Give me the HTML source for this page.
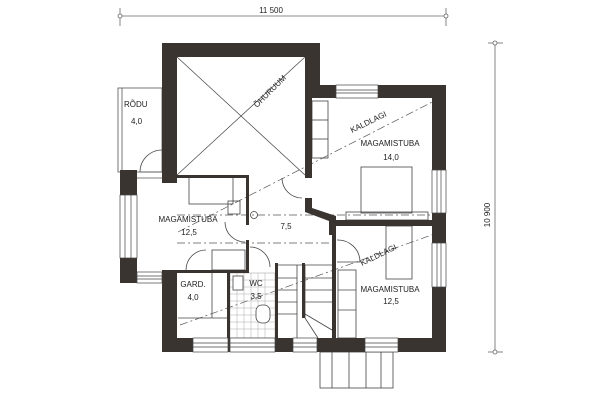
<!DOCTYPE html>
<html><head><meta charset="utf-8"><style>
body{margin:0;background:#fff}
svg{display:block}
text{font-family:"Liberation Sans",sans-serif;font-size:8px;fill:#222}
</style></head><body>
<svg width="606" height="403" viewBox="0 0 606 403" xmlns="http://www.w3.org/2000/svg">
<!-- dimensions -->
<g stroke="#666" stroke-width="0.8" fill="none">
<line x1="120" y1="16" x2="446" y2="16"/>
<line x1="120" y1="8" x2="120" y2="26"/><line x1="446" y1="8" x2="446" y2="26"/>
<circle cx="120" cy="16" r="2" fill="#fff"/><circle cx="446" cy="16" r="2" fill="#fff"/>
<line x1="495" y1="43" x2="495" y2="352"/>
<line x1="488" y1="43" x2="503" y2="43"/><line x1="488" y1="352" x2="503" y2="352"/>
<circle cx="495" cy="43" r="2" fill="#fff"/><circle cx="495" cy="352" r="2" fill="#fff"/>
</g>
<text x="271" y="13" text-anchor="middle">11 500</text>
<text transform="translate(490,215) rotate(-90)" text-anchor="middle">10 900</text>

<!-- porch rodu -->
<g stroke="#555" stroke-width="0.8" fill="none">
<rect x="118" y="88" width="44" height="84"/>
<line x1="122" y1="88" x2="122" y2="172"/>
<path d="M140 172 A22 22 0 0 1 162 150"/>
<line x1="140" y1="172" x2="162" y2="172"/>
<line x1="137" y1="178" x2="162" y2="178"/>
</g>

<!-- ohuruum cross -->
<g stroke="#444" stroke-width="0.7">
<line x1="177" y1="57" x2="305" y2="175"/>
<line x1="305" y1="57" x2="177" y2="175"/>
</g>

<!-- dash-dot lines -->
<g stroke="#555" stroke-width="0.7" stroke-dasharray="8,3,2,3" fill="none">
<line x1="178" y1="232" x2="440" y2="98"/>
<line x1="180" y1="325" x2="440" y2="232"/>
<line x1="177" y1="215" x2="440" y2="215"/>
<line x1="177" y1="243" x2="335" y2="243"/>
</g>

<!-- thin interior lines / furniture -->
<g stroke="#444" stroke-width="0.8" fill="none">
<rect x="189" y="177" width="44" height="27"/>
<rect x="228" y="201" width="12" height="13"/>
<rect x="312" y="101" width="16" height="57"/>
<line x1="312" y1="120" x2="328" y2="120"/><line x1="312" y1="139" x2="328" y2="139"/>
<rect x="361" y="167" width="51" height="46"/>
<rect x="346" y="212" width="82" height="8"/>
<rect x="386" y="226" width="26" height="53"/>
<rect x="338" y="270" width="18" height="68"/>
<line x1="338" y1="290" x2="356" y2="290"/><line x1="338" y1="310" x2="356" y2="310"/>
<rect x="212" y="250" width="33" height="20"/>
<line x1="178" y1="318" x2="227" y2="318"/>
<line x1="212" y1="273" x2="212" y2="318"/>
<path d="M186 270 A20 20 0 0 1 206 250"/>
<path d="M225 222 A20 20 0 0 0 245 242"/>
<path d="M250 247 A20 20 0 0 1 270 267"/>
<path d="M282 178 A20 20 0 0 0 302 198"/>
<path d="M337 240 A22 22 0 0 1 360 262 L337 262"/>
<!-- stairs -->
<line x1="297" y1="265" x2="297" y2="338"/>
<line x1="305" y1="265" x2="305" y2="318"/>
<line x1="278" y1="265" x2="332" y2="265"/>
<line x1="278" y1="278" x2="297" y2="278"/><line x1="305" y1="278" x2="332" y2="278"/>
<line x1="278" y1="290" x2="297" y2="290"/><line x1="305" y1="290" x2="332" y2="290"/>
<line x1="278" y1="302" x2="297" y2="302"/><line x1="305" y1="302" x2="332" y2="302"/>
<line x1="278" y1="314" x2="297" y2="314"/><line x1="305" y1="314" x2="332" y2="330"/>
<line x1="305" y1="318" x2="318" y2="338"/>
<!-- wc tiles -->
<rect x="230" y="273" width="45" height="65" stroke="#999" stroke-width="0.5"/>
<path d="M230 280H275M230 287H275M230 294H275M230 301H275M230 308H275M230 315H275M230 322H275M230 329H275M237 273V338M244 273V338M251 273V338M258 273V338M265 273V338" stroke="#aaa" stroke-width="0.5"/>
<rect x="233" y="276" width="10" height="14" fill="#fff"/>
<rect x="256" y="305" width="14" height="18" rx="6" fill="#fff"/>
<circle cx="254" cy="215" r="3.5"/>
<!-- outside stairs -->
<rect x="320" y="352" width="73" height="36"/>
<line x1="332" y1="352" x2="332" y2="388"/><line x1="349" y1="352" x2="349" y2="388"/>
<line x1="366" y1="352" x2="366" y2="388"/><line x1="381" y1="352" x2="381" y2="388"/>
</g>

<!-- walls -->
<g fill="#3a3431">
<rect x="162" y="43" width="158" height="14"/>
<rect x="162" y="43" width="15" height="140"/>
<rect x="305" y="43" width="15" height="55"/>
<rect x="305" y="57" width="7" height="121"/>
<rect x="305" y="85" width="31" height="13"/>
<rect x="378" y="85" width="68" height="13"/>
<rect x="432" y="85" width="14" height="85"/>
<rect x="432" y="213" width="14" height="30"/>
<rect x="432" y="287" width="14" height="65"/>
<polygon points="305,198 312,198 312,208 336,216 336,235 329,235 329,221 305,212"/>
<rect x="336" y="220" width="96" height="6"/>
<rect x="120" y="170" width="17" height="25"/>
<rect x="120" y="258" width="17" height="25"/>
<rect x="162" y="270" width="15" height="82"/>
<rect x="162" y="338" width="31" height="14"/>
<rect x="228" y="338" width="2" height="14"/>
<rect x="275" y="338" width="18" height="14"/>
<rect x="317" y="338" width="48" height="14"/>
<rect x="398" y="338" width="48" height="14"/>
<rect x="177" y="175" width="72" height="3"/>
<rect x="246" y="175" width="3" height="50"/>
<rect x="246" y="240" width="3" height="33"/>
<rect x="177" y="270" width="72" height="3"/>
<rect x="227" y="270" width="3" height="70"/>
<rect x="275" y="263" width="3" height="77"/>
<rect x="302" y="263" width="3" height="55"/>
<rect x="332" y="235" width="4" height="105"/>
</g>

<!-- windows -->
<g stroke="#444" stroke-width="0.7" fill="#fff">
<rect x="336" y="85" width="42" height="13"/><line x1="336" y1="90" x2="378" y2="90"/><line x1="336" y1="93" x2="378" y2="93"/>
<rect x="432" y="170" width="14" height="43"/><line x1="437" y1="170" x2="437" y2="213"/><line x1="441" y1="170" x2="441" y2="213"/>
<rect x="432" y="243" width="14" height="44"/><line x1="437" y1="243" x2="437" y2="287"/><line x1="441" y1="243" x2="441" y2="287"/>
<rect x="120" y="195" width="17" height="63"/><line x1="125" y1="195" x2="125" y2="258"/><line x1="131" y1="195" x2="131" y2="258"/>
<rect x="193" y="338" width="35" height="14"/><line x1="193" y1="343" x2="228" y2="343"/><line x1="193" y1="347" x2="228" y2="347"/>
<rect x="230" y="338" width="45" height="14"/><line x1="230" y1="343" x2="275" y2="343"/><line x1="230" y1="347" x2="275" y2="347"/>
<rect x="293" y="338" width="24" height="14"/><line x1="293" y1="343" x2="317" y2="343"/><line x1="293" y1="347" x2="317" y2="347"/>
<rect x="365" y="338" width="33" height="14"/><line x1="365" y1="343" x2="398" y2="343"/><line x1="365" y1="347" x2="398" y2="347"/>
<rect x="137" y="272" width="25" height="11"/><line x1="137" y1="276" x2="162" y2="276"/><line x1="137" y1="279" x2="162" y2="279"/>
</g>

<!-- labels -->
<text x="124" y="107">RÕDU</text>
<text x="131" y="124">4,0</text>
<text transform="translate(257,108) rotate(-45)">ÕHURUUM</text>
<text transform="translate(352,133) rotate(-26)">KALDLAGI</text>
<text transform="translate(362,266) rotate(-26)">KALDLAGI</text>
<text x="390" y="146" text-anchor="middle">MAGAMISTUBA</text>
<text x="391" y="160" text-anchor="middle">14,0</text>
<text x="188" y="222" text-anchor="middle">MAGAMISTUBA</text>
<text x="189" y="235" text-anchor="middle">12,5</text>
<text x="286" y="229" text-anchor="middle">7,5</text>
<text x="193" y="287" text-anchor="middle">GARD.</text>
<text x="193" y="300" text-anchor="middle">4,0</text>
<text x="256" y="286" text-anchor="middle">WC</text>
<text x="256" y="299" text-anchor="middle">3,5</text>
<text x="390" y="292" text-anchor="middle">MAGAMISTUBA</text>
<text x="391" y="304" text-anchor="middle">12,5</text>
</svg>
</body></html>
